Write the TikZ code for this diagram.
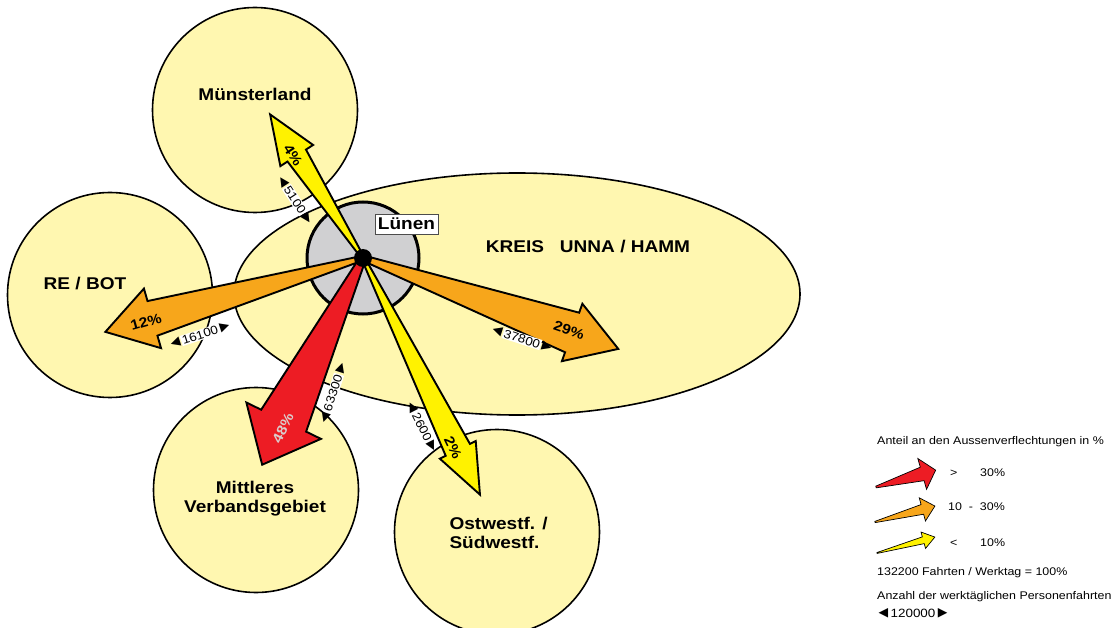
\documentclass[tikz,border=0pt]{standalone}
\usepackage{fontspec}
\setmainfont{Liberation Sans}[FakeStretch=1.12]
\newfontfamily\symfont{DejaVu Sans}
\usetikzlibrary{shapes.geometric}
\definecolor{areafill}{RGB}{255,247,176}
\definecolor{flowred}{RGB}{237,28,36}
\definecolor{floworange}{RGB}{247,166,27}
\definecolor{flowyellow}{RGB}{255,242,0}
\definecolor{luenengrey}{RGB}{208,208,210}
\definecolor{redlabel}{RGB}{218,205,205}
\newcommand{\flow}[9] {
    \draw[#9,fill={#8},shift={(#1,#2)},rotate={#3}]
        (0,{#5/16}) -- ({#4-#7},{#5/2}) -- ({#4-#7},{#6/2}) -- (#4,0)
        -- ({#4-#7},{-#6/2}) -- ({#4-#7},{-#5/2}) -- (0,{-#5/16}) -- cycle;
}
\newcommand{\trips}[5] {
    \node[trips,rotate={#4}] (#1) at (#2, #3) {#5};
    \node[tripsarrow,rotate={#4},anchor=east] (#1l) at (#1.west) {\symfont ◀};
    \node[tripsarrow,rotate={#4},anchor=west] (#1r) at (#1.east) {\symfont ▶};
}
\tikzset{
    region/.style={
        circle,
        draw,
        line width=1.6pt,
        fill=areafill,
        inner sep=0pt,
        minimum size=205pt
    },
    regionlabel/.style={font=\fontsize{17}{19}\selectfont\bfseries,align=center},
    share/.style={font=\fontsize{14}{15}\selectfont\bfseries,inner sep=0pt},
    trips/.style={fill=white,inner sep=1pt,font=\fontsize{12}{13}\selectfont},
    tripsarrow/.style={inner sep=1pt,font=\fontsize{12.5}{13}\selectfont},
    legend/.style={anchor=west,inner sep=0pt,font=\fontsize{11.1}{13}\selectfont},
    bigflow/.style={line width=1.9pt,line join=miter},
    smallflow/.style={line width=0.7pt}
}
\begin{document}
\begin{tikzpicture}[x=1pt,y=-1pt]
    \useasboundingbox (0,0) rectangle (1117,628);
    % areas
    \node[region] (muenster) at (255,110) {};
    \node[region] (rebot) at (110,295) {};
    \node[region] (mittel) at (256,490) {};
    \node[region] (ost) at (497,532) {};
    \node[ellipse,draw,line width=1.6pt,fill=areafill,inner sep=0pt,
        minimum width=566pt,minimum height=242pt] (kreis) at (517,294) {};
    \node[circle,draw,line width=3pt,fill=luenengrey,minimum size=112pt] (luenen) at (363,258) {};
    % flows
    \flow{363}{258}{122.9}{171}{22}{39}{49}{flowyellow}{bigflow}
    \flow{363}{258}{196.0}{268}{36}{62}{49}{floworange}{bigflow}
    \flow{363}{258}{-19.6}{271}{42}{61}{49}{floworange}{bigflow}
    \flow{363}{258}{244.0}{230}{50}{83}{49}{flowred}{bigflow}
    \flow{363}{258}{-63.7}{264}{27}{40}{50}{flowyellow}{bigflow}
    \node[circle,fill=black,minimum size=18pt,inner sep=0pt] (hub) at (363,258) {};
    \node[draw=black!70,fill=white,line width=0.8pt,inner xsep=3pt,inner ysep=4pt,
        font=\fontsize{17}{18}\selectfont\bfseries] (luenenlabel) at (406.5,224) {Lünen};
    % labels
    \node[regionlabel] (muensterlabel) at (255,94) {Münsterland};
    \node[regionlabel] (rebotlabel) at (85,284) {RE / BOT};
    \node[regionlabel] (kreislabel) at (588,247) {KREIS\ \ \ UNNA / HAMM};
    \node[regionlabel] (mittellabel) at (255,499) {Mittleres\\Verbandsgebiet};
    \node[regionlabel,align=left,anchor=west] (ostlabel) at (446,533) {Ostwestf. /\\Südwestf.};
    \node[share,rotate=-57] (muensterpct) at (293,155) {4\%};
    \node[share,rotate=16] (rebotpct) at (146,322) {12\%};
    \node[share,rotate=-19] (kreispct) at (569,330) {29\%};
    \node[share,rotate=64,text=redlabel] (mittelpct) at (283,428) {48\%};
    \node[share,rotate=-64] (ostpct) at (453,448) {2\%};
    \trips{muenstertrips}{295}{200}{-57}{5100}
    \trips{rebottrips}{200}{335}{18}{16100}
    \trips{kreistrips}{522}{339}{-18}{37800}
    \trips{mitteltrips}{333}{393}{72}{63300}
    \trips{osttrips}{422}{427}{-63}{2600}
    % legend
    \node[legend] (legendtitle) at (877,442) {Anteil an den Aussenverflechtungen in \%};
    \flow{876}{487}{15.8}{62}{14}{32}{14}{flowred}{smallflow}
    \flow{875}{522}{14.9}{62}{10}{24}{13}{floworange}{smallflow}
    \flow{877}{553}{15.4}{60}{7}{17}{12}{flowyellow}{smallflow}
    \node[legend] (gtlabel) at (950,473) {>};
    \node[legend] (gtvalue) at (980,473) {30\%};
    \node[legend] (midlabel) at (948,507) {10\ \ -\ \ 30\%};
    \node[legend] (ltlabel) at (950,543) {<};
    \node[legend] (ltvalue) at (980,543) {10\%};
    \node[legend] (legendtotal) at (877,573) {132200 Fahrten / Werktag = 100\%};
    \node[legend] (legendcount) at (877,597) {Anzahl der werktäglichen Personenfahrten};
    \trips{legendtrips}{913}{613}{0}{120000}
\end{tikzpicture}
\end{document}
